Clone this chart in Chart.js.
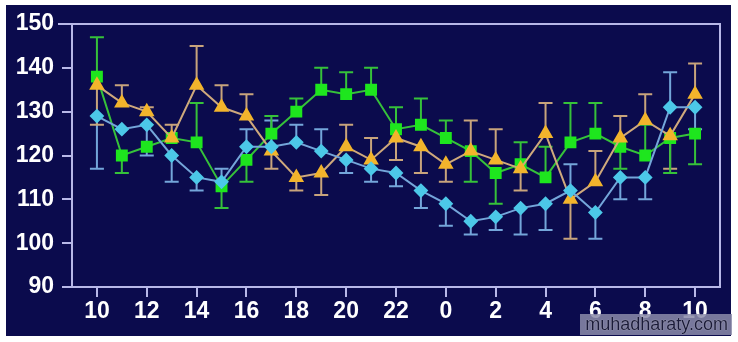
<!DOCTYPE html>
<html>
<head>
<meta charset="utf-8">
<script src="https://cdn.jsdelivr.net/npm/chart.js@4"></script>
<style>
  html, body { margin: 0; padding: 0; background: #fff; }
  #wrap { position: relative; width: 738px; height: 342px; }
  #mark {
    position: absolute; left: 580px; top: 314px; width: 152px; height: 21px;
    background: rgba(140, 140, 170, 0.85); color: #1a1a3a;
    font: 18px "Liberation Sans", Arial, sans-serif; line-height: 21px;
    text-align: right; padding-right: 4px; box-sizing: border-box;
    text-shadow: 0 0 1px #ddd;
  }
</style>
</head>
<body>
<div id="wrap">
  <canvas id="chart" width="738" height="342"></canvas>
  <div id="mark">muhadharaty.com</div>
</div>
<script>
// hour index 0..24 = 10:00 .. 10:00 next day
const hourLabels = ['10', '12', '14', '16', '18', '20', '22', '0', '2', '4', '6', '8', '10']
const yMin = 90
const yMax = 150

const green = [138, 120, 122, 124, 123, 113, 119, 125, 130, 135, 134, 135, 126, 127, 124, 121, 116, 118, 115, 123, 125, 122, 120, 124, 125]
const greenErr = [147, 116, null, null, 132, 108, 114, 129, 133, 140, 139, 140, 131, 133, 128, 114, 109, 123, 122, 132, 132, 117, 127, 116, 118]

const orange = [136, 132, 130, 124, 136, 131, 129, 121, 115, 116, 122, 119, 124, 122, 118, 121, 119, 117, 125, 110, 114, 124, 128, 124.5, 134]
const orangeErr = [127, 136, 131, 127, 145, 136, 134, 117, 112, 111, 127, 124, 119, 116, 114, 128, 126, 112, 132, 101, 121, 129, 134, 117, 141]

const cyan = [129, 126, 127, 120, 115, 114, 122, 122, 123, 121, 119, 117, 116, 112, 109, 105, 106, 108, 109, 112, 107, 115, 115, 131, 131]
const cyanErr = [117, null, 120, 114, 112, 117, 126, 128, 127, 126, 116, 114, 113, 108, 104, 102, 103, 102, 103, 118, 101, 110, 110, 139, 126]

const frameColor = '#b8b8e8'

const toPoints = arr => arr.map((v, i) => ({ x: i, y: v }))

const background = {
  id: 'background',
  beforeDraw(chart) {
    const ctx = chart.ctx
    ctx.save()
    ctx.fillStyle = '#0b0b4d'
    ctx.fillRect(6, 5, 725, 331)
    ctx.restore()
  },
  afterDatasetsDraw(chart) {
    const { ctx, chartArea: a } = chart
    ctx.save()
    ctx.strokeStyle = frameColor
    ctx.lineWidth = 2
    ctx.beginPath()
    ctx.moveTo(58, a.top)
    ctx.lineTo(a.right, a.top)
    ctx.lineTo(a.right, a.bottom)
    ctx.stroke()
    ctx.restore()
  },
}

const errorBars = {
  id: 'errorBars',
  beforeDatasetsDraw(chart) {
    const ctx = chart.ctx
    const xs = chart.scales.x
    const ys = chart.scales.y
    chart.data.datasets.forEach(ds => {
      ctx.save()
      ctx.strokeStyle = ds.errColor
      ctx.lineWidth = 2
      ds.errEnd.forEach((end, i) => {
        if (end == null) return
        const x = xs.getPixelForValue(i)
        const y0 = ys.getPixelForValue(ds.data[i].y)
        const y1 = ys.getPixelForValue(end)
        ctx.beginPath()
        ctx.moveTo(x, y0)
        ctx.lineTo(x, y1)
        ctx.moveTo(x - 7, y1)
        ctx.lineTo(x + 7, y1)
        ctx.stroke()
      })
      ctx.restore()
    })
  },
}

new Chart(document.getElementById('chart').getContext('2d'), {
  type: 'line',
  data: {
    datasets: [
      {
        label: 'cyan',
        data: toPoints(cyan),
        errEnd: cyanErr,
        errColor: '#74a6da',
        borderColor: '#74a6da',
        backgroundColor: '#4cc8e8',
        pointBorderColor: '#4cc8e8',
        pointStyle: 'rectRot',
        pointRadius: 6,
        borderWidth: 2,
      },
      {
        label: 'orange',
        data: toPoints(orange),
        errEnd: orangeErr,
        errColor: '#c8a47c',
        borderColor: '#cfa97c',
        backgroundColor: '#f2b42c',
        pointBorderColor: '#f2b42c',
        pointStyle: 'triangle',
        pointRadius: 7,
        borderWidth: 2,
      },
      {
        label: 'green',
        data: toPoints(green),
        errEnd: greenErr,
        errColor: '#36c23a',
        borderColor: '#36c23a',
        backgroundColor: '#1ee61e',
        pointBorderColor: '#1ee61e',
        pointStyle: 'rect',
        pointRadius: 7,
        borderWidth: 2,
      },
    ],
  },
  options: {
    responsive: false,
    animation: false,
    events: [],
    layout: { padding: { left: 0, top: 24, right: 18, bottom: 0 } },
    plugins: { legend: { display: false }, tooltip: { enabled: false } },
    elements: { line: { tension: 0 }, point: { borderWidth: 1 } },
    scales: {
      x: {
        type: 'linear',
        min: -1,
        max: 25,
        afterFit: s => { s.height = 55 },
        afterBuildTicks: s => { s.ticks = hourLabels.map((_, k) => ({ value: k * 2 })) },
        grid: { drawOnChartArea: false, color: frameColor, lineWidth: 2, tickLength: 10 },
        border: { color: frameColor, width: 2 },
        ticks: {
          color: '#ffffff',
          padding: 1,
          maxRotation: 0,
          autoSkip: false,
          font: { family: 'Liberation Sans', size: 23, weight: 'bold' },
          callback: v => hourLabels[v / 2],
        },
      },
      y: {
        min: yMin,
        max: yMax,
        afterFit: s => { s.width = 72 },
        grid: { drawOnChartArea: false, color: frameColor, lineWidth: 2, tickLength: 10 },
        border: { color: frameColor, width: 2 },
        ticks: {
          stepSize: 10,
          color: '#ffffff',
          padding: 8,
          font: { family: 'Liberation Sans', size: 23, weight: 'bold' },
        },
      },
    },
  },
  plugins: [background, errorBars],
})
</script>
</body>
</html>
